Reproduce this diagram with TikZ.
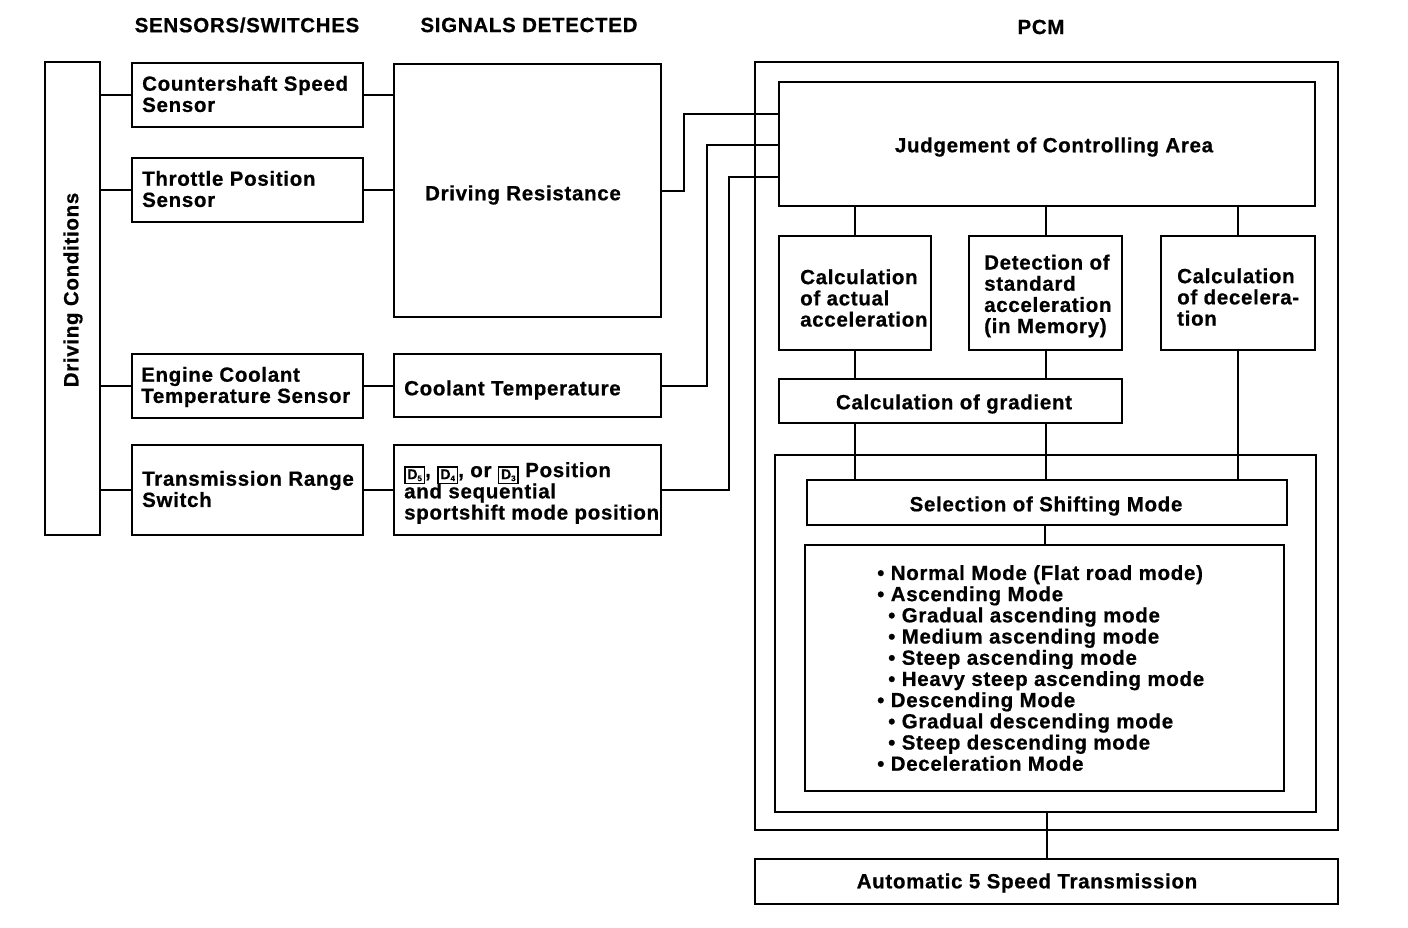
\documentclass[tikz,border=0pt]{standalone}
\usepackage{fontspec}
\setmainfont[LetterSpace=3.4,BoldFeatures={FakeBold=0.7}]{Liberation Sans}
\usetikzlibrary{positioning,calc,fit}
\tikzset{
  blockbox/.style={rectangle,draw,line width=2pt,inner sep=0pt,outer sep=0pt,fill=white},
  blocktext/.style={font=\fontsize{20.5}{21.2}\selectfont\bfseries,align=left,anchor=west,inner sep=0pt},
  centertext/.style={font=\fontsize{20.5}{21.2}\selectfont\bfseries,align=center,inner sep=0pt},
  headtext/.style={font=\fontsize{20.5}{21.2}\selectfont\bfseries,inner sep=0pt},
  wire/.style={draw,line width=2pt}
}
\setlength{\fboxsep}{1.8pt}
\setlength{\fboxrule}{1.4pt}
\newcommand{\rangekey}[1]{\smash{\raisebox{-2pt}{\fbox{\fontsize{14}{14}\selectfont D\raisebox{-2pt}{\fontsize{8}{8}\selectfont #1}}}}}
\begin{document}
\begin{tikzpicture}[x=1pt,y=-1pt]
\useasboundingbox (0,0) rectangle (1408,928);
% outer frames first
\node[blockbox,minimum width=583pt,minimum height=768pt,anchor=north west] (pcm) at (755,62) {};
\node[blockbox,minimum width=541pt,minimum height=357pt,anchor=north west] (inner) at (775,455) {};
% left columns
\node[blockbox,minimum width=55pt,minimum height=473pt,anchor=north west] (drive) at (45,62) {};
\node[blockbox,minimum width=231pt,minimum height=64pt,anchor=north west] (css) at (132,63) {};
\node[blockbox,minimum width=231pt,minimum height=64pt,anchor=north west] (tps) at (132,158) {};
\node[blockbox,minimum width=231pt,minimum height=64pt,anchor=north west] (ect) at (132,354) {};
\node[blockbox,minimum width=231pt,minimum height=90pt,anchor=north west] (trs) at (132,445) {};
\node[blockbox,minimum width=267pt,minimum height=253pt,anchor=north west] (res) at (394,64) {};
\node[blockbox,minimum width=267pt,minimum height=63pt,anchor=north west] (clt) at (394,354) {};
\node[blockbox,minimum width=267pt,minimum height=90pt,anchor=north west] (pos) at (394,445) {};
% pcm blocks
\node[blockbox,minimum width=536pt,minimum height=124pt,anchor=north west] (judge) at (779,82) {};
\node[blockbox,minimum width=152pt,minimum height=114pt,anchor=north west] (actual) at (779,236) {};
\node[blockbox,minimum width=153pt,minimum height=114pt,anchor=north west] (standard) at (969,236) {};
\node[blockbox,minimum width=154pt,minimum height=114pt,anchor=north west] (decel) at (1161,236) {};
\node[blockbox,minimum width=343pt,minimum height=44pt,anchor=north west] (grad) at (779,379) {};
\node[blockbox,minimum width=480pt,minimum height=45pt,anchor=north west] (select) at (807,480) {};
\node[blockbox,minimum width=479pt,minimum height=246pt,anchor=north west] (modes) at (805,545) {};
\node[blockbox,minimum width=583pt,minimum height=45pt,anchor=north west] (trans) at (755,859) {};
% coordinates for the wires
\coordinate (r1) at (684,114);
\coordinate (r2) at (707,145);
\coordinate (r3) at (729,177);
% connectors
\draw[wire] (drive.east |- css) -- (css.west);
\draw[wire] (drive.east |- tps) -- (tps.west);
\draw[wire] (drive.east |- ect) -- (ect.west);
\draw[wire] (drive.east |- trs) -- (trs.west);
\draw[wire] (css.east) -- (css -| res.west);
\draw[wire] (tps.east) -- (tps -| res.west);
\draw[wire] (ect.east) -- (ect -| clt.west);
\draw[wire] (trs.east) -- (pos.west);
\draw[wire] (res.east |- 0,191) -| (r1) -- (r1 -| judge.west);
\draw[wire] (clt.east) -| (r2) -- (r2 -| judge.west);
\draw[wire] (pos.east) -| (r3) -- (r3 -| judge.west);
\draw[wire] (judge.south -| actual) -- (actual.north);
\draw[wire] (judge.south -| standard) -- (standard.north);
\draw[wire] (judge.south -| decel) -- (decel.north);
\draw[wire] (actual.south) -- (actual.south |- grad.north);
\draw[wire] (standard.south) -- (standard.south |- grad.north);
\draw[wire] (grad.south -| actual) -- (select.north -| actual);
\draw[wire] (grad.south -| standard) -- (select.north -| standard);
\draw[wire] (decel.south) -- (select.north -| decel);
\draw[wire] (select.south -| modes) -- (modes.north);
\draw[wire] (inner.south -| trans) -- (trans.north);
% labels
\node[headtext] (h1) at (247,25) {SENSORS/SWITCHES};
\node[headtext] (h2) at (529,25) {SIGNALS DETECTED};
\node[headtext] (h3) at (1041,27) {PCM};
\node[centertext,rotate=90] (t0) at (73,290) {Driving Conditions};
\node[blocktext] (t1) at (142,94) {Countershaft Speed\\Sensor};
\node[blocktext] (t2) at (142,189) {Throttle Position\\Sensor};
\node[blocktext] (t3) at (141,387) {Engine Coolant\\Temperature Sensor};
\node[blocktext] (t4) at (142,489) {Transmission Range\\Switch};
\node[centertext] (t5) at (523,195) {Driving Resistance};
\node[blocktext] (t6) at (404,390) {Coolant Temperature};
\node[blocktext] (t7) at (404,493) {\rangekey{5}, \rangekey{4}, or \rangekey{3} Position\\and sequential\\sportshift mode position};
\node[centertext] (t8) at (1054,147) {Judgement of Controlling Area};
\node[blocktext] (t9) at (800,298) {Calculation\\of actual\\acceleration};
\node[blocktext] (t10) at (984,296) {Detection of\\standard\\acceleration\\(in Memory)};
\node[blocktext] (t11) at (1177,297) {Calculation\\of decelera-\\tion};
\node[centertext] (t12) at (954,404) {Calculation of gradient};
\node[centertext] (t13) at (1046,506) {Selection of Shifting Mode};
\node[blocktext] (t14) at (877,668) {\textbullet\ Normal Mode (Flat road mode)\\
\textbullet\ Ascending Mode\\
\hspace{11pt}\textbullet\ Gradual ascending mode\\
\hspace{11pt}\textbullet\ Medium ascending mode\\
\hspace{11pt}\textbullet\ Steep ascending mode\\
\hspace{11pt}\textbullet\ Heavy steep ascending mode\\
\textbullet\ Descending Mode\\
\hspace{11pt}\textbullet\ Gradual descending mode\\
\hspace{11pt}\textbullet\ Steep descending mode\\
\textbullet\ Deceleration Mode};
\node[centertext] (t15) at (1027,883) {Automatic 5 Speed Transmission};
\end{tikzpicture}
\end{document}
